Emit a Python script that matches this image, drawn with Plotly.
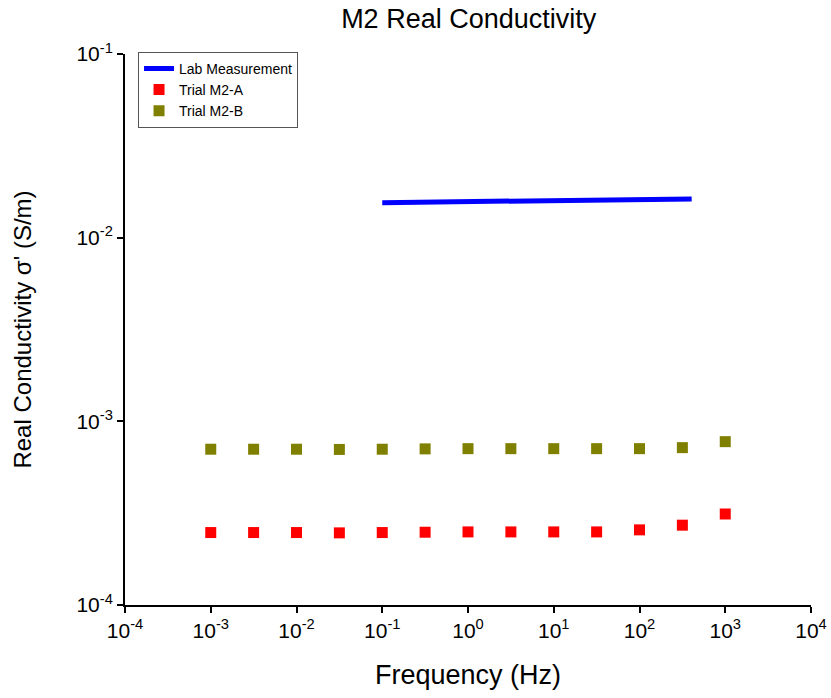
import plotly.graph_objects as go

# Lab measurement (blue line)
lab_freq = [0.1, 1, 10, 100, 406]
lab_sigma = [0.01551, 0.0157, 0.0159, 0.0161, 0.01625]

# Trial frequencies (half-decade steps)
trial_freq = [1e-3, 3.162e-3, 1e-2, 3.162e-2, 1e-1, 3.162e-1, 1, 3.162, 10, 31.62, 100, 316.2, 1000]
trial_a = [2.48e-4, 2.48e-4, 2.48e-4, 2.47e-4, 2.48e-4, 2.49e-4, 2.50e-4, 2.50e-4, 2.50e-4, 2.50e-4, 2.565e-4, 2.72e-4, 3.13e-4]
trial_b = [7.05e-4, 7.05e-4, 7.05e-4, 7.03e-4, 7.05e-4, 7.08e-4, 7.10e-4, 7.10e-4, 7.10e-4, 7.10e-4, 7.10e-4, 7.19e-4, 7.75e-4]

x_tickvals = [1e-4, 1e-3, 1e-2, 1e-1, 1, 10, 100, 1000, 1e4]
x_ticktext = ["10<sup>-4</sup>", "10<sup>-3</sup>", "10<sup>-2</sup>", "10<sup>-1</sup>",
              "10<sup>0</sup>", "10<sup>1</sup>", "10<sup>2</sup>", "10<sup>3</sup>", "10<sup>4</sup>"]
y_tickvals = [1e-4, 1e-3, 1e-2, 1e-1]
y_ticktext = ["10<sup>-4</sup>", "10<sup>-3</sup>", "10<sup>-2</sup>", "10<sup>-1</sup>"]

FONT = "Liberation Sans, Arial, sans-serif"

fig = go.Figure()
fig.add_trace(go.Scatter(x=lab_freq, y=lab_sigma, mode="lines", name="Lab Measurement",
                         line=dict(color="#0000FF", width=5)))
fig.add_trace(go.Scatter(x=trial_freq, y=trial_a, mode="markers", name="Trial M2-A",
                         marker=dict(symbol="square", size=11, color="#FF0000")))
fig.add_trace(go.Scatter(x=trial_freq, y=trial_b, mode="markers", name="Trial M2-B",
                         marker=dict(symbol="square", size=11, color="#808000")))

axis_common = dict(
    showline=True, linecolor="black", linewidth=2, mirror=False,
    ticks="outside", ticklen=6, tickwidth=2, tickcolor="black",
    showgrid=False, zeroline=False, ticklabeloverflow="allow", automargin=False,
    tickfont=dict(family=FONT, size=21, color="black"),
)

fig.update_layout(
    width=831, height=698,
    margin=dict(l=125, r=20, t=54, b=93, autoexpand=False),
    paper_bgcolor="white", plot_bgcolor="white",
    font=dict(family=FONT, color="black"),
    title=dict(text="M2 Real Conductivity", x=0.564, xanchor="center", y=0.974, yanchor="middle",
               font=dict(family=FONT, size=27, color="black"), automargin=False),
    xaxis=dict(type="log", range=[-4, 4], tickvals=x_tickvals, ticktext=x_ticktext,
               title=dict(text="Frequency (Hz)", font=dict(family=FONT, size=27), standoff=24),
               **axis_common),
    yaxis=dict(type="log", range=[-4, -1], tickvals=y_tickvals, ticktext=y_ticktext,
               title=dict(text="Real Conductivity σ' (S/m)", font=dict(family=FONT, size=24), standoff=38),
               **axis_common),
    legend=dict(x=0.019, y=1.004, xanchor="left", yanchor="top",
                bgcolor="white", bordercolor="#555555", borderwidth=1,
                font=dict(family=FONT, size=14, color="black"),
                tracegroupgap=0, itemwidth=30),
    showlegend=True,
)

fig.write_html("out.html")
